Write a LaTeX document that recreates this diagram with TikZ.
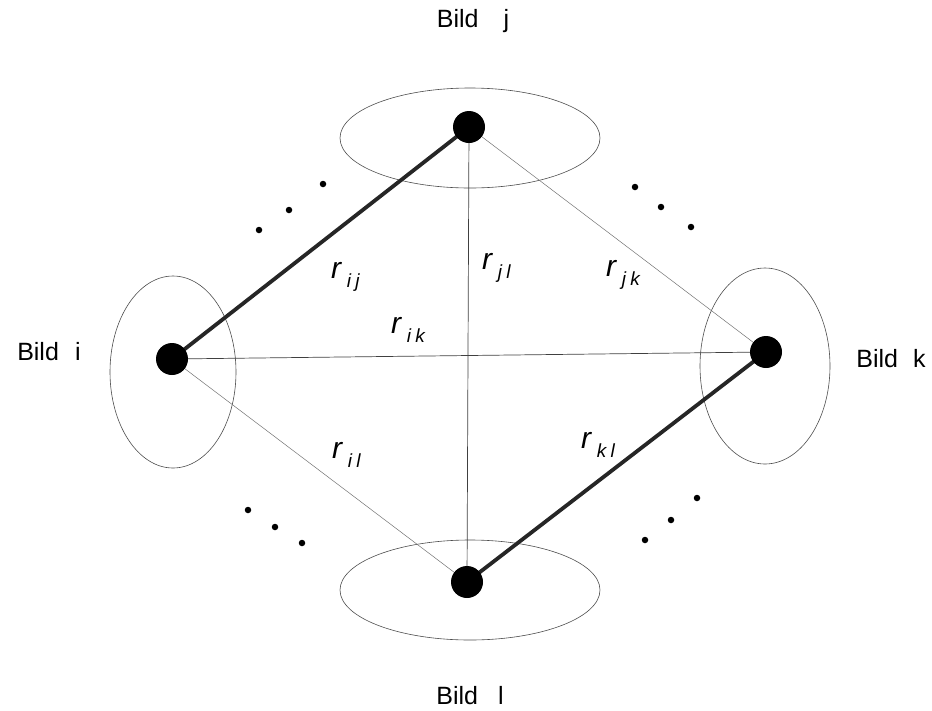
\documentclass[tikz,border=0pt]{standalone}
\usepackage{fontspec}
\setmainfont{Liberation Sans}
\begin{document}
\begin{tikzpicture}[x=1pt,y=-1pt,
  dot/.style={circle,fill=black,inner sep=0pt,minimum size=32pt},
  smalldot/.style={circle,fill=black,inner sep=0pt,minimum size=6.5pt},
  ring/.style={draw=black!70,line width=0.6pt},
  strong/.style={line width=3.8pt,black!85},
  thin/.style={line width=0.7pt,black!75},
  faint/.style={line width=0.5pt,black!55},
  bild/.style={font=\fontsize{25}{25}\selectfont,inner sep=0pt},
  rlab/.style={anchor=base west,inner sep=0pt,font=\fontsize{30}{30}\selectfont\itshape}
]
\useasboundingbox (0,0) rectangle (932,710);
% ellipses
\draw[ring] (470,138) ellipse [x radius=130,y radius=50];
\draw[ring] (470,590) ellipse [x radius=130,y radius=50];
\draw[ring] (173,372) ellipse [x radius=63,y radius=96];
\draw[ring] (765,366) ellipse [x radius=65,y radius=98];
% node positions
\coordinate (ci) at (172,359);
\coordinate (cj) at (469,127);
\coordinate (ck) at (766,352);
\coordinate (cl) at (467,582);
% connectors
\draw[strong] (ci) -- (cj);
\draw[strong] (ck) -- (cl);
\draw[thin] (ci) -- (ck);
\draw[thin] (cj) -- (cl);
\draw[faint] (cj) -- (ck);
\draw[faint] (ci) -- (cl);
% nodes
\node[dot] (i) at (ci) {};
\node[dot] (j) at (cj) {};
\node[dot] (k) at (ck) {};
\node[dot] (l) at (cl) {};
% ellipsis dots
\foreach \n/\p in {a1/{(259,230)},a2/{(289,210)},a3/{(323,184)},
                   b1/{(635,187)},b2/{(661,207)},b3/{(691,227)},
                   c1/{(248,510)},c2/{(275,527)},c3/{(302,543)},
                   d1/{(645,540)},d2/{(671,520)},d3/{(697,498)}}
  \node[smalldot] (\n) at \p {};
% labels
\node[bild] (li) at (49,352) {Bild\hspace{0.65em}i};
\node[bild] (lj) at (473,21) {Bild\hspace{1em}j};
\node[bild] (lk) at (891,359) {Bild\hspace{0.6em}k};
\node[bild] (ll) at (470,696) {Bild\hspace{0.8em}l};
% r labels
\newcommand{\rsub}[2]{r\raisebox{-0.32em}{\fontsize{19}{19}\selectfont\itshape\hspace{0.3em}#1\hspace{0.22em}#2}}
\node[rlab] (rij) at (331,278) {\rsub{i}{j}};
\node[rlab] (rjl) at (482,269) {\rsub{j}{l}};
\node[rlab] (rik) at (391,333) {\rsub{i}{k}};
\node[rlab] (rjk) at (606,276) {\rsub{j}{k}};
\node[rlab] (ril) at (332,458) {\rsub{i}{l}};
\node[rlab] (rkl) at (581,448) {\rsub{k}{l}};
\end{tikzpicture}
\end{document}
